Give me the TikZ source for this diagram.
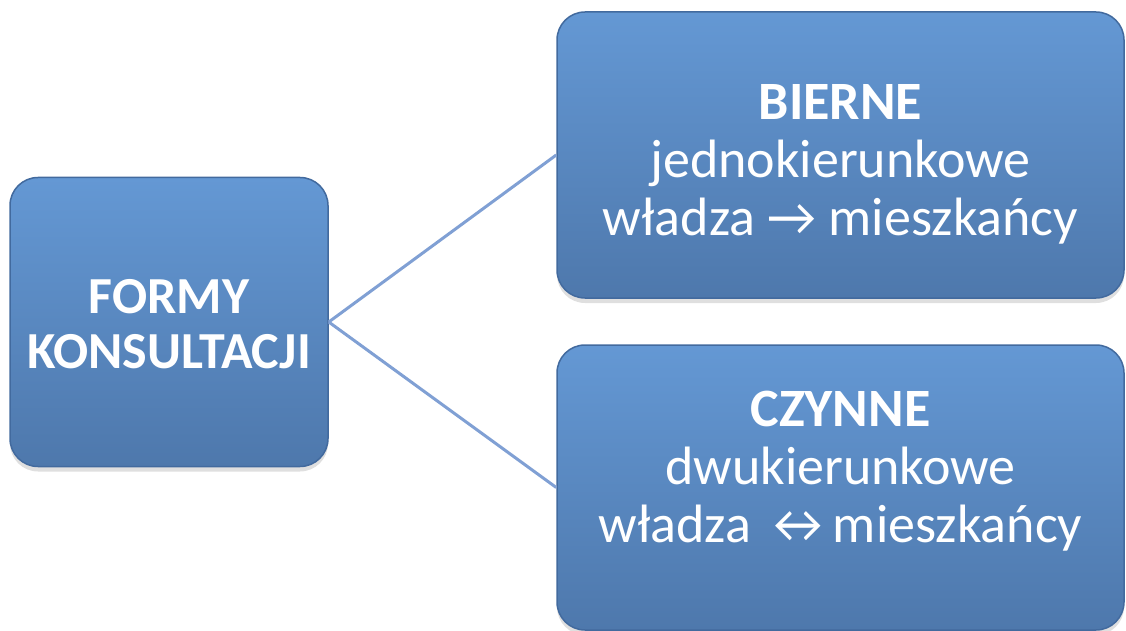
\documentclass[tikz,border=0pt]{standalone}
\usepackage{fontspec}
\setmainfont{Carlito}
\usetikzlibrary{positioning, shadows}

\definecolor{boxtop}{RGB}{100,152,212}
\definecolor{boxbot}{RGB}{78,120,172}
\definecolor{boxrim}{RGB}{66,106,158}
\definecolor{linkblue}{RGB}{128,160,212}

\begin{document}
\begin{tikzpicture} [x = 1pt, y = 1pt,
  box/.style = {rounded corners = 28pt, draw = boxrim, line width = 1.5pt,
    top color = boxtop, bottom color = boxbot, inner sep = 0pt,
    drop shadow = {opacity = 0.25, shadow xshift = 0pt, shadow yshift = -5pt}},
  txt/.style = {text = white, align = center},
  link/.style = {draw = linkblue, line width = 3pt}]
\useasboundingbox (0,0) rectangle (1126,630);
\clip (0,0) rectangle (1126,630);
\node[box, minimum width = 318pt, minimum height = 289pt] (formy) at (169,308) {};
\node[box, minimum width = 567pt, minimum height = 286pt] (bierne) at (840.5,475) {};
\node[box, minimum width = 567pt, minimum height = 285pt] (czynne) at (840.5,142.5) {};
\node[txt, font = \fontsize{52}{55}\selectfont\bfseries] (formyt) at ([yshift = -2pt]formy.center) {FORMY\\KONSULTACJI};
\node[txt, font = \fontsize{54}{58}\selectfont] (biernet) at ([yshift = -9pt]bierne.center)
  {\textbf{BIERNE}\\jednokierunkowe\\władza → mieszkańcy};
\node[txt, font = \fontsize{54}{58}\selectfont] (czynnet) at ([yshift = 16pt]czynne.center)
  {\textbf{CZYNNE}\\dwukierunkowe\\władza ↔mieszkańcy};
\draw[link] (formy.east) -- (bierne.west);
\draw[link] (formy.east) -- (czynne.west);
\end{tikzpicture}
\end{document}
